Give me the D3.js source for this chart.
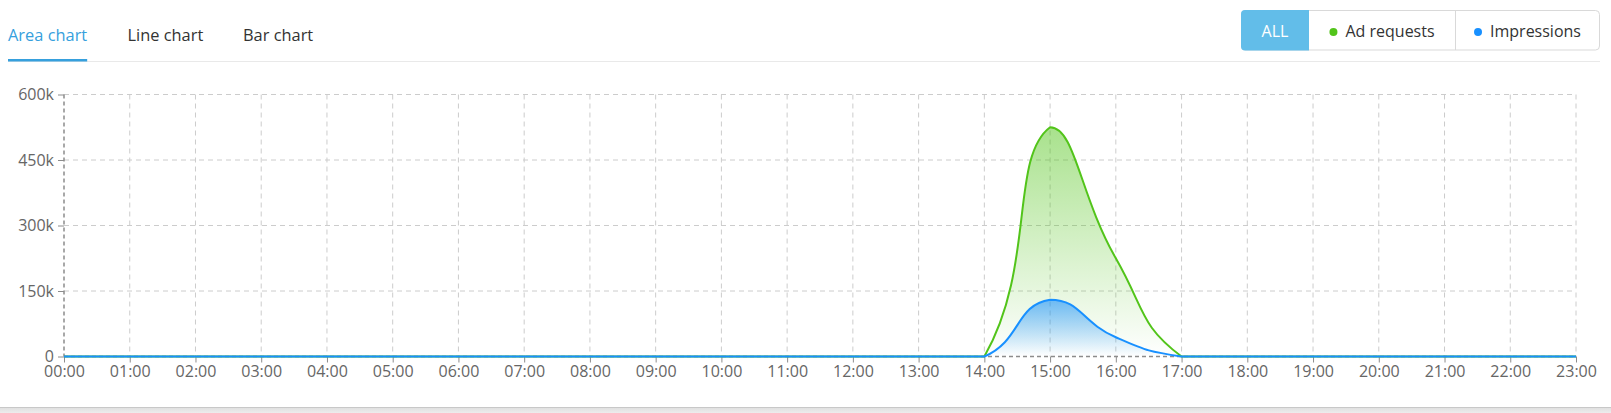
<!DOCTYPE html>
<html>
<head>
<meta charset="utf-8">
<script src="https://cdn.jsdelivr.net/npm/d3@7/dist/d3.min.js"></script>
<style>
  html, body { margin: 0; padding: 0; background: #ffffff; }
  svg { display: block; font-family: "Open Sans", "Noto Sans", sans-serif; }
</style>
</head>
<body>
<svg id="chart" width="1611" height="413"></svg>
<script>
// ---------- data ----------
const tabs = ["Area chart", "Line chart", "Bar chart"];
const legendItems = ["ALL", "Ad requests", "Impressions"];
const hours = ["00:00","01:00","02:00","03:00","04:00","05:00","06:00","07:00",
               "08:00","09:00","10:00","11:00","12:00","13:00","14:00","15:00",
               "16:00","17:00","18:00","19:00","20:00","21:00","22:00","23:00"];
const adRequests  = [0,0,0,0,0,0,0,0,0,0,0,0,0,0,0,525000,225000,0,0,0,0,0,0,0];
const impressions = [0,0,0,0,0,0,0,0,0,0,0,0,0,0,0,130000,44000,0,0,0,0,0,0,0];
const yTickValues = [0,150000,300000,450000,600000];
const yTickLabels = ["0","150k","300k","450k","600k"];

// ---------- smooth curve (bezier with control points clamped to the points' bounding box) ----------
function SmoothCurve(context, smooth) { this._context = context; this._smooth = smooth; }
SmoothCurve.prototype = {
  areaStart() { this._line = 0; },
  areaEnd() { this._line = NaN; },
  lineStart() { this._pts = []; },
  point(x, y) { this._pts.push([+x, +y]); },
  lineEnd() {
    const ctx = this._context, pts = this._pts, s = this._smooth, n = pts.length;
    const minX = d3.min(pts, p => p[0]), maxX = d3.max(pts, p => p[0]);
    const minY = d3.min(pts, p => p[1]), maxY = d3.max(pts, p => p[1]);
    const cx = v => Math.max(minX, Math.min(maxX, v));
    const cy = v => Math.max(minY, Math.min(maxY, v));
    let cp0 = null;
    for (let i = 0; i < n; i++) {
      const p = pts[i];
      if (i === 0) {
        if (this._line) ctx.lineTo(p[0], p[1]); else ctx.moveTo(p[0], p[1]);
        cp0 = [p[0], p[1]];
        continue;
      }
      const prev = pts[i - 1], next = pts[i + 1];
      let cp1, ratio = 0.5, v = [0, 0];
      if (!next) {
        cp1 = [p[0], p[1]];
      } else {
        v = [next[0] - prev[0], next[1] - prev[1]];
        const lp = Math.hypot(p[0] - prev[0], p[1] - prev[1]);
        const ln = Math.hypot(next[0] - p[0], next[1] - p[1]);
        ratio = ln / (ln + lp);
        cp1 = [p[0] - v[0] * s * (1 - ratio), p[1] - v[1] * s * (1 - ratio)];
      }
      ctx.bezierCurveTo(cx(cp0[0]), cy(cp0[1]), cx(cp1[0]), cy(cp1[1]), p[0], p[1]);
      cp0 = [p[0] + v[0] * s * ratio, p[1] + v[1] * s * ratio];
    }
    if (this._line || (this._line !== 0 && n === 1)) ctx.closePath();
    this._line = 1 - this._line;
  }
};
const curveSmooth = ctx => new SmoothCurve(ctx, 0.5);

// ---------- layout ----------
const svg = d3.select("#chart");
const W = 1611, H = 413;
const plot = { left: 64, right: 1576, top: 94.5, bottom: 356.5 };

// card background and bottom edge
const defs = svg.append("defs");
const bottomGrad = defs.append("linearGradient").attr("id", "bottomShade")
  .attr("x1", 0).attr("y1", 0).attr("x2", 0).attr("y2", 1);
bottomGrad.append("stop").attr("offset", 0).attr("stop-color", "#dedede");
bottomGrad.append("stop").attr("offset", 1).attr("stop-color", "#ededed");
svg.append("rect").attr("x", 0).attr("y", 0).attr("width", W).attr("height", 407).attr("fill", "#fff");
svg.append("rect").attr("x", 0).attr("y", 407).attr("width", W).attr("height", H - 407).attr("fill", "url(#bottomShade)");
svg.append("line").attr("x1", 0).attr("x2", W).attr("y1", 407.5).attr("y2", 407.5)
  .attr("stroke", "#c8c8c8").attr("stroke-width", 1);

// ---------- tabs ----------
const tabX = [8, 127.5, 243];
svg.append("line").attr("x1", 8).attr("x2", 1600).attr("y1", 61.5).attr("y2", 61.5)
  .attr("stroke", "#e9e9e9").attr("stroke-width", 1);
const tabText = svg.append("g").selectAll("text").data(tabs).join("text")
  .attr("x", (d, i) => tabX[i]).attr("y", 40.5)
  .attr("font-size", 16.4)
  .attr("fill", (d, i) => i === 0 ? "#36a0dd" : "#333")
  .text(d => d);
const firstLen = tabText.nodes()[0].getComputedTextLength();
svg.append("rect").attr("x", 8).attr("y", 59).attr("width", Math.max(firstLen, 78.5)).attr("height", 2.5)
  .attr("fill", "#36a0dd");

// ---------- legend button group ----------
const segEdges = [1241, 1309, 1455, 1600];
const legTop = 10.5, legH = 39.5;
const legColors = [null, "#52c41a", "#1890ff"];
const lg = svg.append("g");
lg.append("rect").attr("x", segEdges[0] + 0.5).attr("y", legTop).attr("width", segEdges[3] - segEdges[0] - 1)
  .attr("height", legH).attr("rx", 4).attr("fill", "#fff").attr("stroke", "#d9d9d9");
const r = 4, x0 = segEdges[0], x1 = segEdges[1], yT = legTop - 0.5, yB = legTop + legH + 0.5;
lg.append("path")
  .attr("d", `M${x1},${yT}H${x0 + r}Q${x0},${yT} ${x0},${yT + r}V${yB - r}Q${x0},${yB} ${x0 + r},${yB}H${x1}Z`)
  .attr("fill", "#62bde9");
lg.append("line").attr("x1", segEdges[2] + 0.5).attr("x2", segEdges[2] + 0.5)
  .attr("y1", legTop).attr("y2", legTop + legH).attr("stroke", "#d9d9d9");
legendItems.forEach((name, i) => {
  const cxm = (segEdges[i] + segEdges[i + 1]) / 2;
  const t = lg.append("text").attr("y", 37.3).attr("font-size", 16)
    .attr("fill", i === 0 ? "#fff" : "#333").text(name);
  const tw = t.node().getComputedTextLength();
  if (i === 0) {
    t.attr("x", cxm).attr("text-anchor", "middle");
  } else {
    const total = 8 + 8 + tw;
    const start = cxm - total / 2;
    lg.append("circle").attr("cx", start + 4).attr("cy", 32).attr("r", 4).attr("fill", legColors[i]);
    t.attr("x", start + 16);
  }
});

// ---------- scales ----------
const x = d3.scalePoint().domain(hours).range([plot.left, plot.right]);
const y = d3.scaleLinear().domain([0, 600000]).range([plot.bottom, plot.top]);

// grid
const grid = svg.append("g");
grid.selectAll("line.h").data(yTickValues.slice(1)).join("line")
  .attr("x1", plot.left).attr("x2", plot.right)
  .attr("y1", d => y(d)).attr("y2", d => y(d))
  .attr("stroke", "#cccccc").attr("stroke-dasharray", "5,4");
grid.selectAll("line.v").data(hours.slice(1)).join("line")
  .attr("x1", d => x(d)).attr("x2", d => x(d))
  .attr("y1", plot.top).attr("y2", plot.bottom)
  .attr("stroke", "#cccccc").attr("stroke-dasharray", "5,4");

// axis lines (dashed)
svg.append("line").attr("x1", plot.left).attr("x2", plot.left).attr("y1", plot.top).attr("y2", plot.bottom)
  .attr("stroke", "#8c8c8c").attr("stroke-width", 1.5).attr("stroke-dasharray", "4,3");
svg.append("line").attr("x1", plot.left).attr("x2", plot.right).attr("y1", plot.bottom).attr("y2", plot.bottom)
  .attr("stroke", "#8c8c8c").attr("stroke-width", 1.5).attr("stroke-dasharray", "4,3");

// axes
const yAxis = svg.append("g").attr("transform", `translate(${plot.left},0)`)
  .call(d3.axisLeft(y).tickValues(yTickValues).tickFormat((d, i) => yTickLabels[i]).tickSize(6).tickPadding(4));
const xAxis = svg.append("g").attr("transform", `translate(0,${plot.bottom})`)
  .call(d3.axisBottom(x).tickSize(6).tickPadding(3));
[yAxis, xAxis].forEach(a => {
  a.select(".domain").remove();
  a.selectAll(".tick line").attr("stroke", "#8c8c8c");
  a.selectAll(".tick text").attr("fill", "#666").attr("font-size", 16)
    .attr("font-family", "'Open Sans', 'Noto Sans', sans-serif");
});

// ---------- series ----------
const series = [
  { name: "Ad requests", values: adRequests, color: "#52c41a", opacity: 0.5, id: "gGreen" },
  { name: "Impressions", values: impressions, color: "#1890ff", opacity: 0.6, id: "gBlue" }
];
series.forEach(s => {
  const g = defs.append("linearGradient").attr("id", s.id)
    .attr("x1", 0).attr("y1", 0).attr("x2", 0).attr("y2", 1);
  g.append("stop").attr("offset", 0).attr("stop-color", s.color).attr("stop-opacity", s.opacity);
  g.append("stop").attr("offset", 1).attr("stop-color", s.color).attr("stop-opacity", 0);
});

const area = d3.area().x((d, i) => x(hours[i])).y0(y(0)).y1(d => y(d)).curve(curveSmooth);
const line = d3.line().x((d, i) => x(hours[i])).y(d => y(d)).curve(curveSmooth);

const sg = svg.append("g");
series.forEach(s => {
  sg.append("path").datum(s.values).attr("d", area).attr("fill", `url(#${s.id})`);
});
series.forEach(s => {
  sg.append("path").datum(s.values).attr("d", line).attr("fill", "none")
    .attr("stroke", s.color).attr("stroke-width", 2).attr("stroke-linejoin", "round");
});
</script>
</body>
</html>
